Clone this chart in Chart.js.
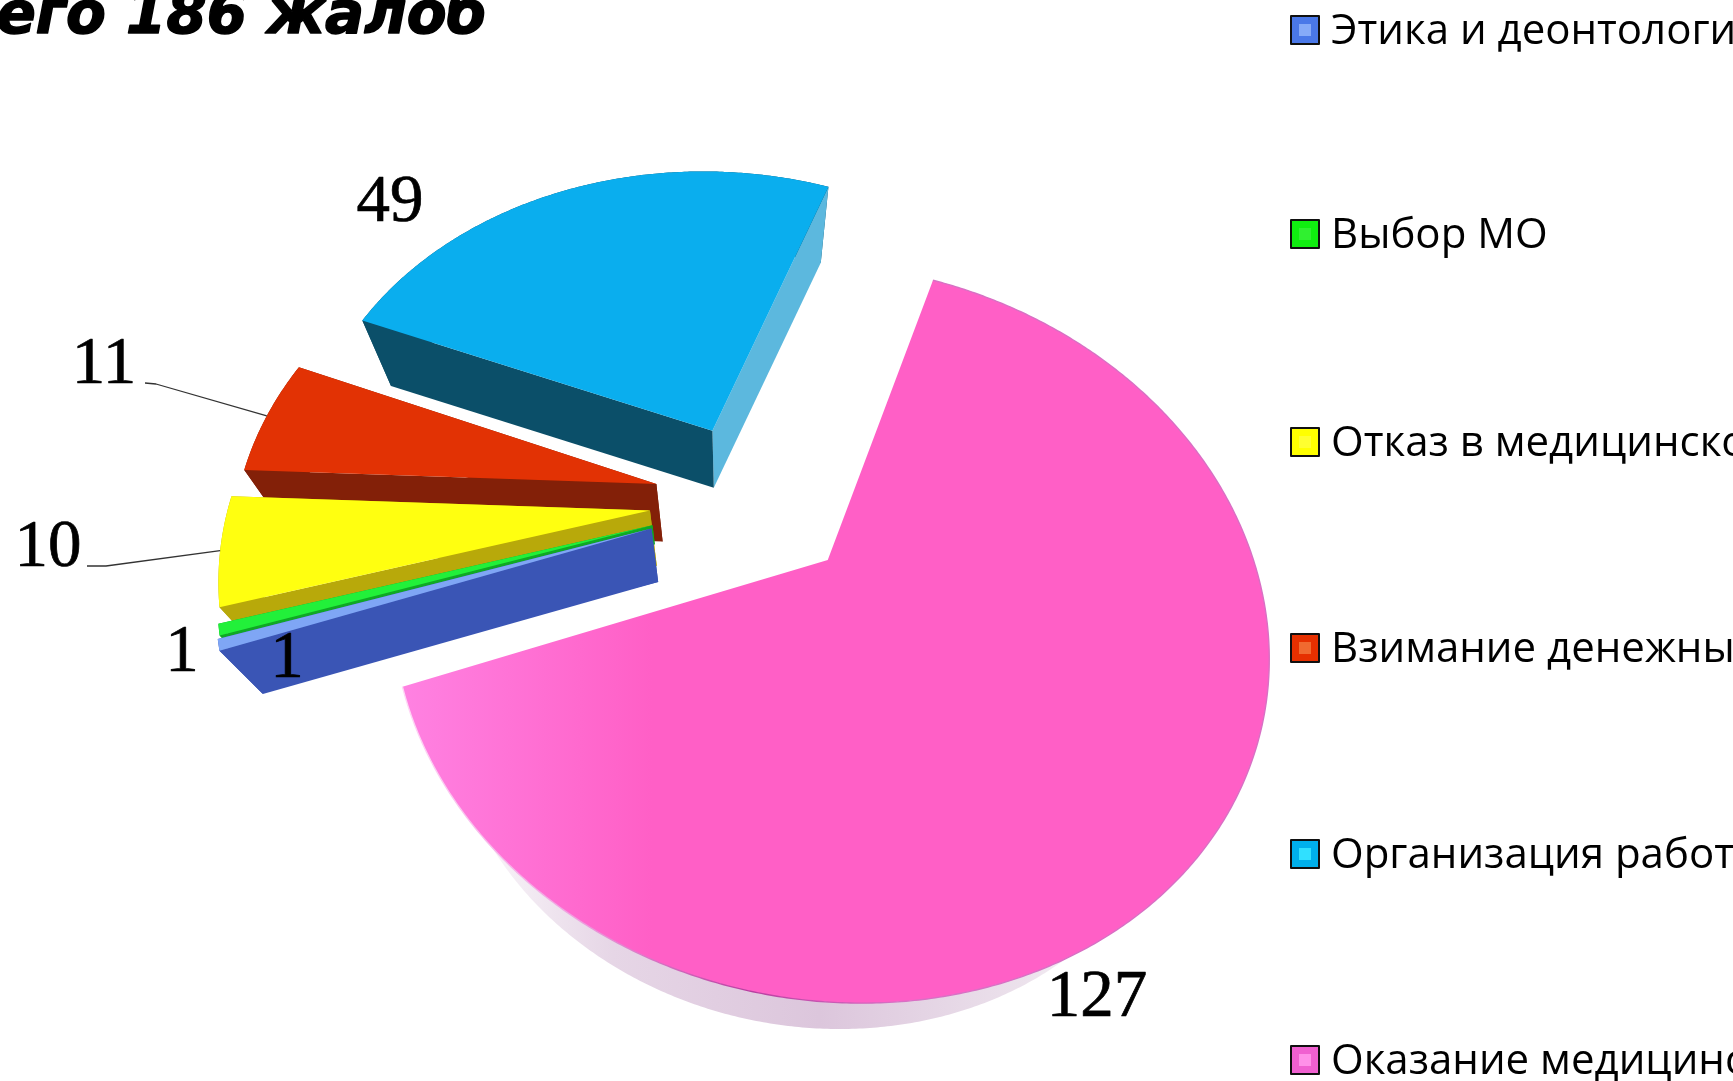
<!DOCTYPE html>
<html lang="ru">
<head>
<meta charset="utf-8">
<title>Всего 186 жалоб</title>
<script src="https://cdn.jsdelivr.net/npm/chart.js@4"></script>
<style>html,body{margin:0;padding:0;background:#fff;overflow:hidden}canvas{display:block}</style>
</head>
<body>
<canvas id="c" width="1733" height="1081"></canvas>
<script>
// ---- data ----
const categories = ["Этика и деонтология","Выбор МО","Отказ в медицинской помощи","Взимание денежных средств","Организация работы МО","Оказание медицинской помощи"];
const complaints = [1,1,10,11,49,127];
const titleText = "Всего 186 жалоб";

// ---- styles ----
const topColors   = ["#7fa6f5","#22f03a","#ffff10","#e23204","#0aaeee","#ff5fc6"];
const startWalls  = ["#3a55b5","#10a824","#b8a90a","#832008","#0b4f69","#e8d8e8"];
const endWalls    = ["#3a55b5","#10a824","#b8a90a","#832008","#5cb8de","#e8d8e8"];
const keyFill     = ["#4a78e8","#10ee10","#ffff00","#e63000","#00b0ec","#f060d0"];
const keyInner    = ["#86aaf8","#30f030","#ffff30","#f06a30","#30e0ff","#ff90e8"];
const explode = [107,105,104,99.5,99.5,99.5];
const depth   = [0.085,0.03,0.085,0.085,0.078,0.165];
const drawOrder = [5,4,3,2,1,0];
const view = {K:0.00046, squash:0.80, shear:0.03, vpX:730, vpY:1160};
const labelAt = [[287,677],[182,671],[48,566],[104,383],[390,221],[1097,1016]];
const leaderElbow = {2:[[87,566],[106,566]],3:[[145,383],[156,384]]};
const keyBaselines = [44,248,456,662,868,1074];

function project(arc,X,Y){
  const d = 1 - view.K*Y;
  return [arc.x + X/d, arc.y + (view.squash*Y + view.shear*X)/d];
}
function rimPoint(arc,a,r){
  const mid=(arc.startAngle+arc.endAngle)/2, o=arc.options.offset||0;
  return project(arc, o*Math.cos(mid)+r*Math.cos(a), o*Math.sin(mid)+r*Math.sin(a));
}
function outline(arc){
  const pts=[], n=Math.max(2,Math.ceil((arc.endAngle-arc.startAngle)/0.008));
  for(let i=0;i<=n;i++){
    const a=arc.startAngle+(arc.endAngle-arc.startAngle)*i/n;
    pts.push(rimPoint(arc,a,arc.outerRadius));
  }
  return pts;
}
function lower(p,f){ return [p[0]+(view.vpX-p[0])*f, p[1]+(view.vpY-p[1])*f]; }
function fillPoly(ctx,pts,fill){
  ctx.beginPath(); pts.forEach((p,i)=>i?ctx.lineTo(p[0],p[1]):ctx.moveTo(p[0],p[1]));
  ctx.closePath(); ctx.fillStyle=fill; ctx.fill();
}
function drawSlice(ctx,arc,i){
  const rim=outline(arc), apex=rimPoint(arc,arc.startAngle,0), f=depth[i];
  const rimLow=rim.map(p=>lower(p,f)), apexLow=lower(apex,f);
  const last=rim.length-1;
  let outerFill=startWalls[i];
  if(i===5){
    const g=ctx.createLinearGradient(440,0,1130,0);
    g.addColorStop(0,"#ffffff"); g.addColorStop(0.25,"#e6d6e6"); g.addColorStop(0.55,"#dcc6dc");
    g.addColorStop(0.85,"#ece2ec"); g.addColorStop(1,"#ffffff");
    outerFill=g;
  }
  fillPoly(ctx,rim.concat(rimLow.slice().reverse()),outerFill);
  if(i!==5){
    fillPoly(ctx,[apex,rim[last],rimLow[last],apexLow],endWalls[i]);
    fillPoly(ctx,[apex,rim[0],rimLow[0],apexLow],startWalls[i]);
  }
  let top=arc.options.backgroundColor;
  if(i===5){
    const g=ctx.createLinearGradient(400,0,760,0);
    g.addColorStop(0,"#ff82e2"); g.addColorStop(0.7,"#ff5fc6"); g.addColorStop(1,"#ff5fc6");
    top=g;
  }
  fillPoly(ctx,[apex].concat(rim),top);
  if(i===5){
    const g=ctx.createLinearGradient(400,0,900,0);
    g.addColorStop(0,"#ffd8f6"); g.addColorStop(0.35,"#f0a0e0"); g.addColorStop(0.7,"#b83ea0"); g.addColorStop(1,"#d870c4");
    ctx.beginPath(); rim.forEach((p,k)=>k?ctx.lineTo(p[0],p[1]):ctx.moveTo(p[0],p[1]));
    ctx.strokeStyle=g; ctx.lineWidth=1.4; ctx.stroke();
  }
}
const pie3d = {
  id:"pie3d",
  beforeDatasetDraw(chart,args){
    const ctx=chart.ctx, arcs=chart.getDatasetMeta(args.index).data;
    ctx.save();
    drawOrder.forEach(i=>drawSlice(ctx,arcs[i],i));
    ctx.restore();
    return false;
  },
  afterDraw(chart){
    const ctx=chart.ctx, arcs=chart.getDatasetMeta(0).data;
    ctx.save();
    // title
    ctx.fillStyle="#000"; ctx.strokeStyle="#000"; ctx.textBaseline="alphabetic"; ctx.textAlign="right";
    ctx.font='italic bold 58px "DejaVu Sans"';
    ctx.lineWidth=1.5; ctx.lineJoin="round";
    ctx.fillText(titleText,487,33); ctx.strokeText(titleText,487,33);
    // leaders
    ctx.strokeStyle="#333"; ctx.lineWidth=1.3;
    Object.keys(leaderElbow).forEach(k=>{
      const arc=arcs[k], mid=(arc.startAngle+arc.endAngle)/2, e=rimPoint(arc,mid,arc.outerRadius);
      ctx.beginPath(); leaderElbow[k].forEach((p,n)=>n?ctx.lineTo(p[0],p[1]):ctx.moveTo(p[0],p[1]));
      ctx.lineTo(e[0],e[1]); ctx.stroke();
    });
    // value labels
    ctx.textAlign="center"; ctx.fillStyle="#000"; ctx.strokeStyle="#000"; ctx.lineWidth=0.7;
    ctx.font='67px "Liberation Serif"';
    complaints.forEach((v,i)=>{ctx.fillText(String(v),labelAt[i][0],labelAt[i][1]);ctx.strokeText(String(v),labelAt[i][0],labelAt[i][1]);});
    // key
    ctx.textAlign="left";
    ctx.font='42px "Open Sans"';
    categories.forEach((t,i)=>{
      const b=keyBaselines[i], x=1291, y=b-28, s=28;
      ctx.fillStyle=keyFill[i]; ctx.fillRect(x,y,s,s);
      ctx.strokeStyle="#101010"; ctx.lineWidth=2; ctx.strokeRect(x,y,s,s);
      ctx.fillStyle=keyInner[i]; ctx.fillRect(x+8,y+8,s-16,s-16);
      ctx.fillStyle="#000"; ctx.fillText(t,1331,b);
    });
    ctx.restore();
  }
};
new Chart(document.getElementById("c"),{
  type:"pie",
  data:{labels:categories,datasets:[{data:complaints,backgroundColor:topColors,borderWidth:0,offset:explode}]},
  options:{
    responsive:false,animation:false,devicePixelRatio:1,rotation:248.6,
    layout:{padding:{left:284,right:510,top:31.5,bottom:110.5}},
    events:[],
    plugins:{legend:{display:false},tooltip:{enabled:false},title:{display:false}}
  },
  plugins:[pie3d]
});
</script>
</body>
</html>
